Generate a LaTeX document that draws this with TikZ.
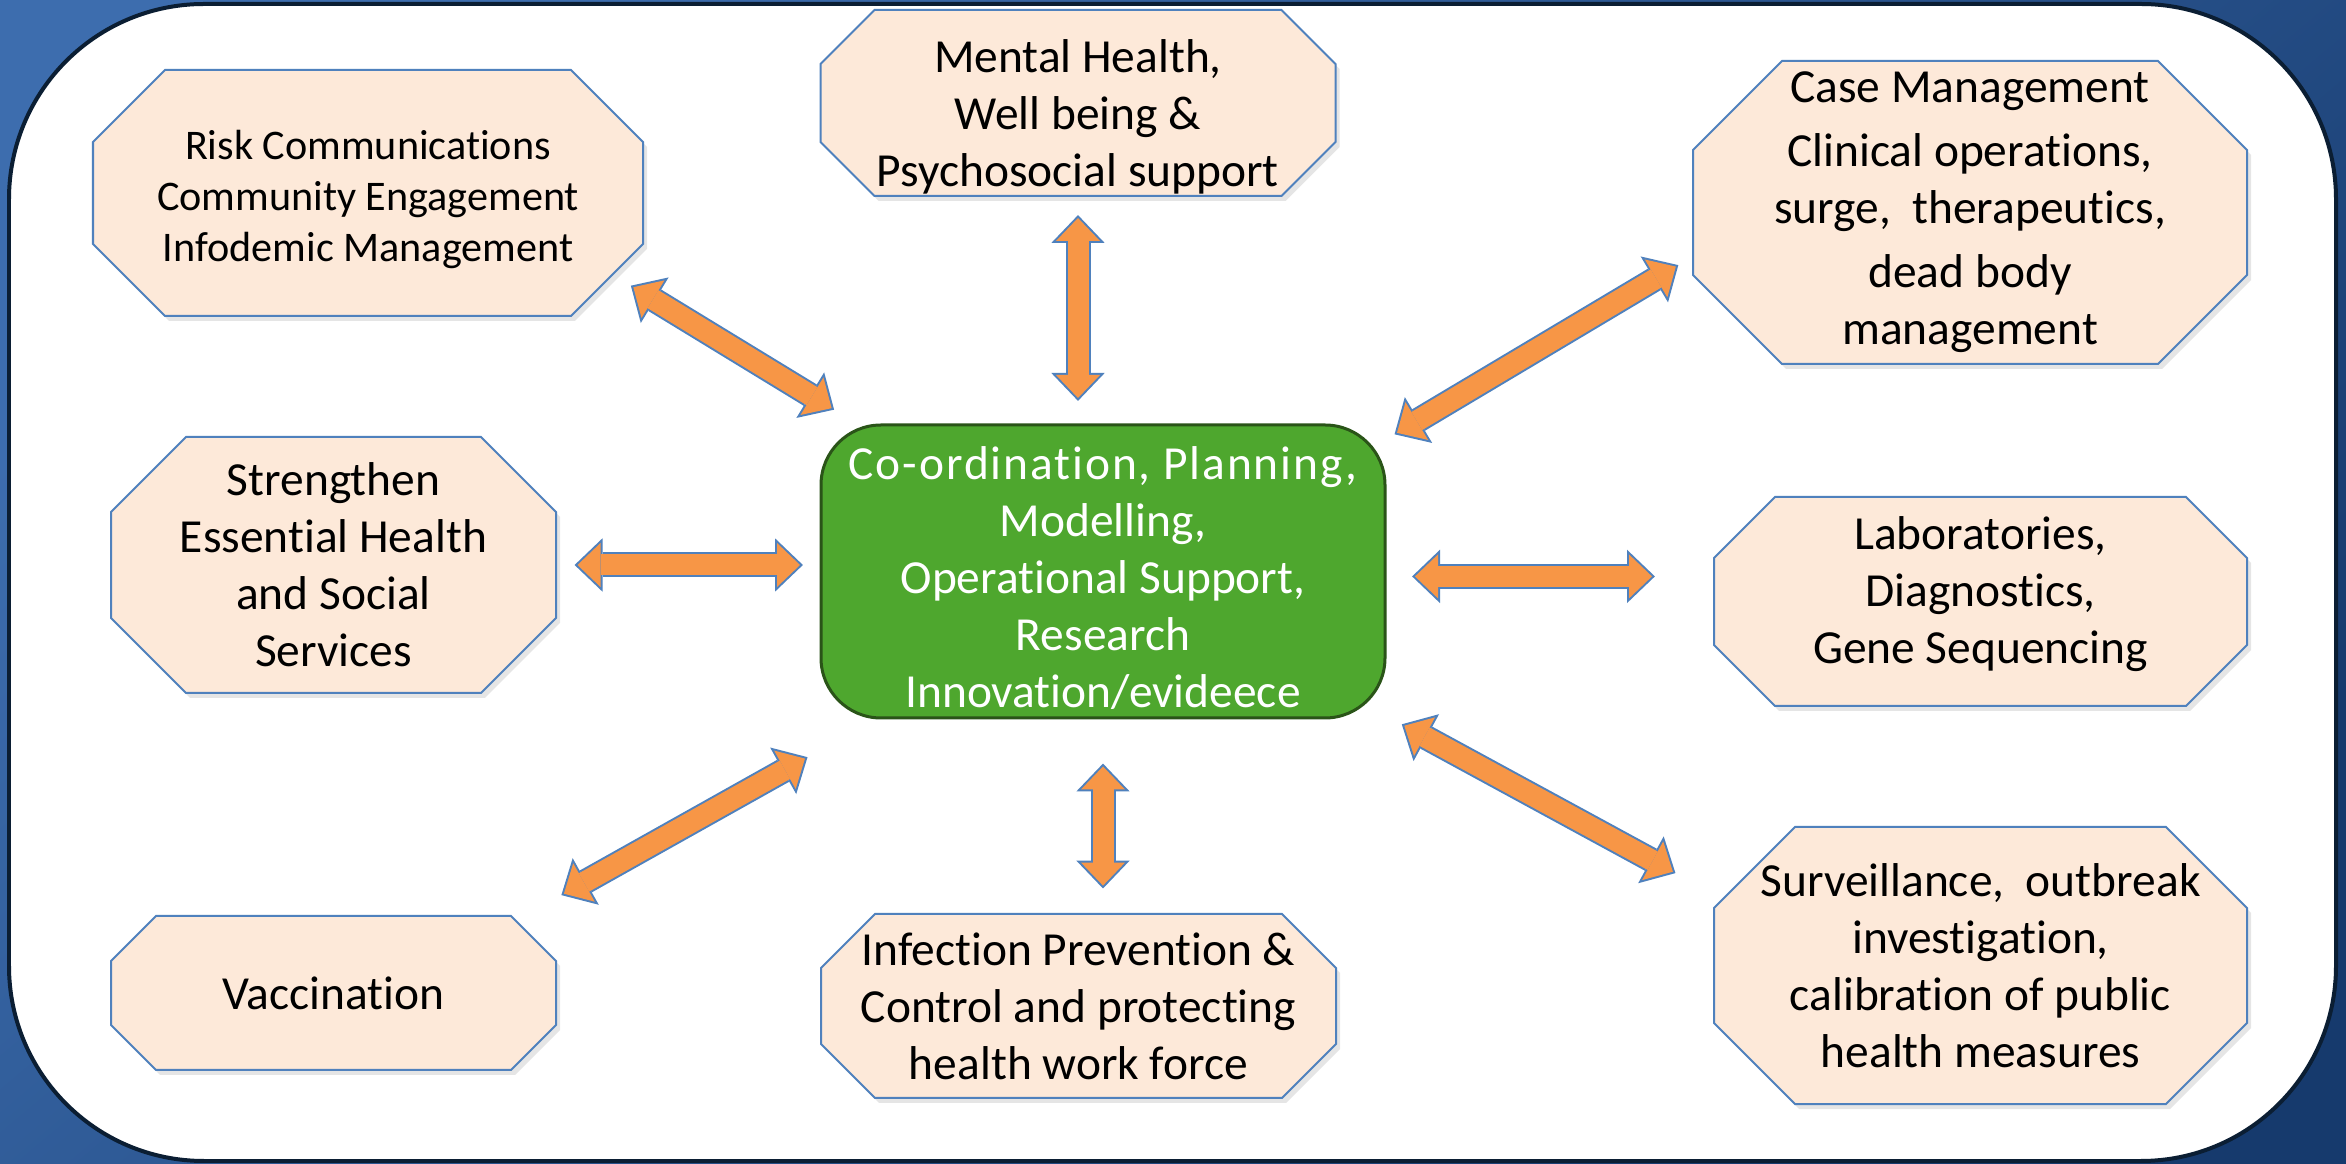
\documentclass[tikz,border=0pt]{standalone}
\usepackage{fontspec}
\setmainfont{Carlito}[Ligatures=NoCommon, Contextuals=NoAlternate]
\usepackage{tikz}
\usetikzlibrary{positioning,calc,arrows.meta,shadows}

\definecolor{bglight}{HTML}{3D6DAE}
\definecolor{bgdark}{HTML}{163A6D}
\definecolor{frameline}{HTML}{0B1E33}
\definecolor{octfill}{HTML}{FDE9D9}
\definecolor{octline}{HTML}{4F81BD}
\definecolor{arrowfill}{HTML}{F79646}
\definecolor{hubfill}{HTML}{4EA72E}
\definecolor{hubline}{HTML}{2A5418}

\pgfdeclarelayer{backdrop}
\pgfdeclarelayer{shapes}
\pgfsetlayers{backdrop,shapes,main}

\tikzset{
  pillar/.style={rectangle, align=center, inner sep=0pt, outer sep=0pt,
    font=\fontsize{13.5}{16.2}\selectfont},
  pillarline/.style={draw=octline, line width=0.02cm, fill=octfill,
    drop shadow={shadow xshift=0.04cm, shadow yshift=-0.05cm, opacity=0.2}},
  hub/.style={rectangle, rounded corners=0.6cm, draw=hubline,
    line width=0.03cm, fill=hubfill, text=white, align=center,
    minimum width=5.64cm, minimum height=2.93cm, inner sep=0pt,
    outer sep=0pt, font=\fontsize{13.5}{16.2}\selectfont},
  link/.style={draw=arrowfill, line width=0.21cm,
    {Triangle[width=0.44cm,length=0.23cm,line width=0pt]}-{Triangle[width=0.44cm,length=0.23cm,line width=0pt]},
    preaction={draw=octline, line width=0.25cm,
      shorten <=-0.29mm, shorten >=-0.29mm,
      {Triangle[width=0.534cm,length=0.279cm,line width=0pt]}-{Triangle[width=0.534cm,length=0.279cm,line width=0pt]}}}
}

% octagon behind a named node: #1 node, #2 corner cut
\newcommand{\octagon}[2]{%
  \begin{pgfonlayer}{shapes}
    \draw[pillarline] ([xshift=#2]#1.north west) -- ([xshift=-#2]#1.north east)
      -- ([yshift=-#2]#1.north east) -- ([yshift=#2]#1.south east)
      -- ([xshift=-#2]#1.south east) -- ([xshift=#2]#1.south west)
      -- ([yshift=#2]#1.south west) -- ([yshift=-#2]#1.north west) -- cycle;
  \end{pgfonlayer}}

\begin{document}
\begin{tikzpicture}

  % Background and frame
  \useasboundingbox (0,0) rectangle (23.46,-11.64);
  \begin{pgfonlayer}{backdrop}
    \shade[top color=bglight, bottom color=bgdark, shading angle=40]
      (0,0) rectangle (23.46,-11.64);
    \draw[fill=white, draw=frameline, line width=0.04cm,
      rounded corners=1.95cm] (0.09,-0.04) rectangle (23.36,-11.61);
  \end{pgfonlayer}

  % Define nodes
  \node[hub] (hub) at (11.03,-5.715)
    {\rule{0pt}{13pt}{\addfontfeatures{LetterSpace=4}Co-ordination, Planning,}\\
     Modelling,\\ Operational Support,\\ Research\\ Innovation/evideece};
  \node[pillar, minimum width=5.50cm, minimum height=2.46cm,
    font=\fontsize{12}{14.6}\selectfont] (risk) at (3.68,-1.93)
    {\rule{0pt}{12pt}Risk Communications\\ Community Engagement\\
     Infodemic Management};
  \node[pillar, minimum width=5.15cm, minimum height=1.86cm]
    (mental) at (10.78,-1.03)
    {\rule{0pt}{17.5pt}Mental Health,\\ Well being \&\\ Psychosocial support};
  \node[pillar, minimum width=5.54cm, minimum height=3.03cm]
    (case) at (19.70,-2.125)
    {Case Management\\[2pt] Clinical operations,\\ surge,~ therapeutics,\\[2pt]
     dead body\\ management};
  \node[pillar, minimum width=4.45cm, minimum height=2.56cm]
    (strengthen) at (3.335,-5.65)
    {Strengthen\\ Essential Health\\ and Social\\ Services};
  \node[pillar, minimum width=5.33cm, minimum height=2.09cm]
    (lab) at (19.805,-6.015)
    {Laboratories,\\ Diagnostics,\\
     Gene Sequencing\rule[-6.5pt]{0pt}{6.5pt}};
  \node[pillar, minimum width=4.45cm, minimum height=1.54cm,
    below=2.23cm of strengthen] (vacc) {Vaccination};
  \node[pillar, minimum width=5.15cm, minimum height=1.84cm]
    (infection) at (10.785,-10.06)
    {Infection Prevention \&\\ Control and protecting\\ health work force};
  \node[pillar, minimum width=5.33cm, minimum height=2.77cm,
    below=1.21cm of lab] (surv)
    {Surveillance,~ outbreak\\ investigation,\\ calibration of public\\
     health measures};

  % Octagon outlines
  \octagon{risk}{0.72cm}
  \octagon{mental}{0.54cm}
  \octagon{case}{0.89cm}
  \octagon{strengthen}{0.75cm}
  \octagon{lab}{0.61cm}
  \octagon{vacc}{0.45cm}
  \octagon{infection}{0.54cm}
  \octagon{surv}{0.81cm}

  % Connect the nodes
  \draw[link] ($(risk.-20.8)!-1.13mm!(hub.149.5)$) --
    ($(hub.149.5)!3.23mm!(risk.-20.8)$);
  \draw[link] ($(mental.south)+(0,-0.22)$) --
    ($(mental.south |- hub.north)+(0,0.27)$);
  \draw[link] ($(case.-171.9)!2mm!(hub.25.6)$) --
    ($(hub.25.6)!1.4mm!(case.-171.9)$);
  \draw[link] ($(strengthen.east)+(0.215,0)$) --
    ($(strengthen.east -| hub.west)+(-0.21,0)$);
  \draw[link] ($(hub.-1.5)+(0.30,0)$) --
    ($(hub.-1.5 -| lab.west)+(-0.62,0)$);
  \draw[link] ($(vacc.22.8)!4.56mm!(hub.-147.1)$) --
    ($(hub.-147.1)!8.3mm!(vacc.22.8)$);
  \draw[link] ($(hub.south)+(0,-0.485)$) --
    ($(hub.south |- infection.north)+(0,0.284)$);
  \draw[link] ($(hub.-27.7)!2.2mm!(surv.165.3)$) --
    ($(surv.165.3)!4.68mm!(hub.-27.7)$);

\end{tikzpicture}
\end{document}
